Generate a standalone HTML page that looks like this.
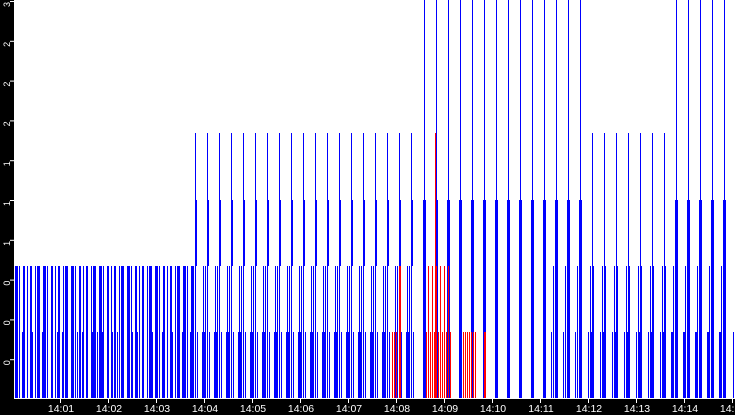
<!DOCTYPE html>
<html><head><meta charset="utf-8"><style>
html,body{margin:0;padding:0;background:#fff;}
svg{display:block;font-family:"Liberation Sans",sans-serif;}
</style></head><body>
<svg id="s" width="735" height="415" xmlns="http://www.w3.org/2000/svg"></svg>
<script>
var s=document.getElementById('s'),h='';
h+='<rect x="0" y="0" width="735" height="415" fill="#fff"/>';
var L={t0:0,t1:133,t2:200,t3:266,t4:332,b:398};
function ln(x,y1,y2,c,w){w=w||1;h+='<rect x="'+x+'" y="'+y1+'" width="'+w+'" height="'+(y2-y1)+'" fill="'+(c||'#0000ff')+'"/>';}
var B=398;
// Region A
for(var x=15;x<195;x+=4){ln(x,266,B);}
for(var x=17;x<195;x+=5){ln(x,332,B);}
for(var x=16;x<195;x+=7){ln(x,266,B,null,2);}
// Region B
for(var p=195;p<420;p+=12){
 ln(p,133,B);ln(p+1,200,266);ln(p-4,266,B);ln(p-2,266,B);
 ln(p-5,332,B);ln(p-3,332,B);ln(p+2,332,B);
}
// Region C
for(var p=424;p<590;p+=12){
 ln(p,0,B);ln(p-1,200,B);ln(p+1,200,B);
 if(p>550){ln(p-3,266,B);ln(p-5,332,B);}
}
// Region D
for(var p=592;p<675;p+=12){
 ln(p,133,B);ln(p-2,266,B);ln(p+1,266,B);ln(p-4,332,B);ln(p-1,332,B);
}
// Region E
for(var p=676;p<735;p+=12){
 ln(p,0,B);ln(p-1,200,B);ln(p+1,200,B);ln(p-3,266,B);ln(p-5,332,B);ln(p-4,332,B);
}
// red
var R='#ff0000';
[392,394,396].forEach(function(x){ln(x,332,B,R);});
[399,400].forEach(function(x){ln(x,266,B,R);});
for(var x=426;x<452;x+=2){ln(x,(x%4==0)?266:332,B,R);}
ln(435,133,B,R);
for(var x=463;x<476;x+=2){ln(x,(x%4==0)?266:332,B,R);}
ln(484,332,B,R,2);
ln(733,332,B);
// axes
h+='<rect x="0" y="0" width="14" height="415" fill="#000"/>';
h+='<rect x="0" y="399" width="735" height="16" fill="#000"/>';
var labs=['3','2','2','2','1','1','1','0','0','0','0'];
for(var k=0;k<10;k++){var y=1+k*39.8;
 h+='<rect x="10" y="'+y.toFixed(1)+'" width="4" height="1" fill="#fff"/>';
 h+='<text x="0" y="0" transform="translate(10,'+(y+1).toFixed(1)+') rotate(-90)" text-anchor="end" font-size="9" fill="#fff">'+labs[k]+'</text>';
}
for(var k=1;k<=15;k++){var x=60+(k-1)*48;
 h+='<rect x="'+x+'" y="399" width="1" height="4" fill="#fff"/>';
 h+='<text x="'+(x+1)+'" y="412" text-anchor="middle" font-size="10.5" fill="#fff">14:'+(k<10?'0':'')+k+'</text>';
}
s.innerHTML=h;
</script>
</body></html>
